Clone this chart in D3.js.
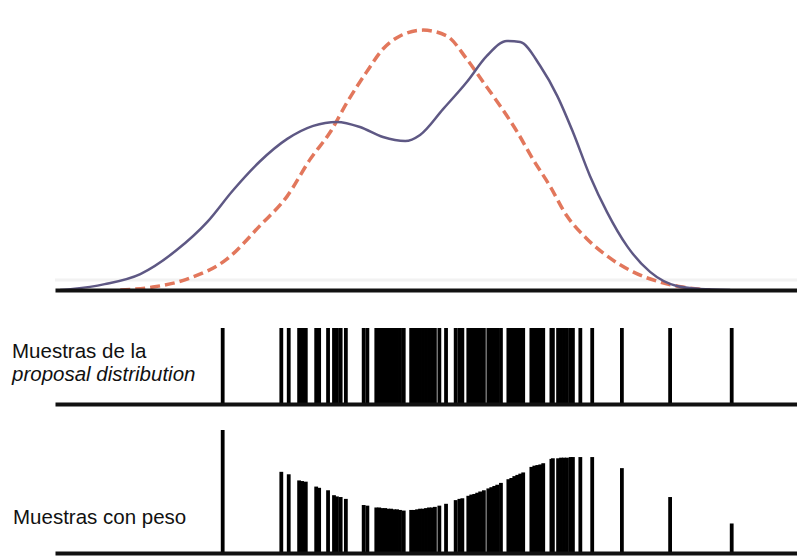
<!DOCTYPE html>
<html>
<head>
<meta charset="utf-8">
<script src="https://cdn.jsdelivr.net/npm/d3@7"></script>
<style>
  html, body { margin: 0; padding: 0; background: #fff; }
  svg { display: block; }
  text { font-family: "Liberation Sans", Arial, sans-serif; fill: #111; }
</style>
</head>
<body>
<svg id="chart" width="797" height="559"></svg>
<script>
// ---- Data (x in arbitrary units 0..10) ----
const targetX = [0.07,0.24,0.67,1.15,1.64,2.05,2.40,2.76,3.13,3.48,3.80,4.11,4.42,4.72,4.92,5.23,5.55,5.82,6.09,6.27,6.54,6.77,6.98,7.21,7.44,7.71,8.02,8.38,8.69,9.10];
const targetY = [0,0.004,0.022,0.060,0.150,0.255,0.375,0.483,0.568,0.617,0.632,0.613,0.575,0.560,0.583,0.680,0.782,0.880,0.936,0.932,0.842,0.729,0.594,0.429,0.293,0.165,0.068,0.015,0.004,0];

const proposalX = [0.88,1.32,1.78,2.32,2.76,3.13,3.44,3.71,3.94,4.20,4.42,4.65,4.96,5.28,5.55,5.77,6.00,6.23,6.44,6.67,6.90,7.17,7.44,7.79,8.15,8.46,8.83];
const proposalY = [0,0.011,0.041,0.117,0.241,0.353,0.492,0.594,0.707,0.820,0.906,0.955,0.977,0.955,0.868,0.782,0.692,0.594,0.492,0.391,0.278,0.192,0.128,0.068,0.030,0.011,0];

const sampleX = [2.26,3.05,3.15,3.29,3.33,3.38,3.52,3.56,3.68,3.76,3.80,3.85,3.92,4.16,4.21,
  4.33,4.37,4.41,4.45,4.49,4.53,4.57,4.61,4.65,4.70,4.80,4.84,4.88,4.92,4.96,5.00,5.04,5.08,5.12,
  5.18,5.27,5.40,5.45,5.49,5.57,5.61,5.65,5.69,5.73,5.78,5.84,5.88,5.92,5.96,6.01,
  6.11,6.15,6.19,6.23,6.27,6.31,6.42,6.46,6.50,6.54,6.58,6.69,6.71,6.78,6.82,6.86,6.90,6.95,6.98,
  7.08,7.24,7.64,8.29,9.12];
const sampleW = [1.00,0.66,0.64,0.59,0.585,0.58,0.54,0.53,0.51,0.47,0.46,0.455,0.44,0.39,0.385,
  0.37,0.37,0.365,0.365,0.36,0.36,0.355,0.355,0.35,0.345,0.35,0.35,0.355,0.36,0.36,0.365,0.37,0.37,0.375,
  0.385,0.40,0.43,0.44,0.445,0.465,0.475,0.48,0.49,0.50,0.51,0.525,0.535,0.545,0.555,0.57,
  0.60,0.61,0.625,0.635,0.645,0.655,0.70,0.71,0.715,0.72,0.73,0.765,0.77,0.77,0.775,0.775,0.775,0.78,0.78,
  0.78,0.78,0.69,0.455,0.24];

const labelProposal1 = "Muestras de la";
const labelProposal2 = "proposal distribution";
const labelWeighted = "Muestras con peso";

// ---- Scales ----
const svg = d3.select("#chart");
const x = d3.scaleLinear().domain([0, 10]).range([55, 797]);
const yTop = d3.scaleLinear().domain([0, 1]).range([290, 24]);
const yMid = d3.scaleLinear().domain([0, 1]).range([404, 328]);
const yBot = d3.scaleLinear().domain([0, 1]).range([553, 430]);

// faint ghost line
svg.append("line").attr("x1", 55).attr("x2", 797).attr("y1", 280).attr("y2", 280)
  .attr("stroke", "#f2f2f2").attr("stroke-width", 3);

// ---- Top panel curves ----
const target = targetX.map((v, i) => [v, targetY[i]]);
const proposal = proposalX.map((v, i) => [v, proposalY[i]]);
const line = d3.line().x(d => x(d[0])).y(d => yTop(d[1])).curve(d3.curveMonotoneX);

svg.append("path").datum(proposal).attr("d", line)
  .attr("fill", "none").attr("stroke", "#e2775c").attr("stroke-width", 3.5)
  .attr("stroke-dasharray", "10,5");
svg.append("path").datum(target).attr("d", line)
  .attr("fill", "none").attr("stroke", "#5e5884").attr("stroke-width", 2.5);

// ---- Axes (baselines) ----
function baseline(yScale) {
  const g = svg.append("g").attr("transform", `translate(0,${yScale(0)})`)
    .call(d3.axisBottom(x).tickValues([]).tickSizeOuter(0));
  g.select(".domain").attr("stroke", "#111").attr("stroke-width", 4);
}
baseline(yTop);

// ---- Middle panel samples ----
svg.append("g").selectAll("line").data(sampleX).join("line")
  .attr("x1", d => x(d)).attr("x2", d => x(d))
  .attr("y1", yMid(0)).attr("y2", yMid(1))
  .attr("stroke", "#000").attr("stroke-width", 3.8);
baseline(yMid);

// ---- Bottom panel weighted samples ----
svg.append("g").selectAll("line").data(sampleX).join("line")
  .attr("x1", d => x(d)).attr("x2", d => x(d))
  .attr("y1", yBot(0)).attr("y2", (d, i) => yBot(sampleW[i]))
  .attr("stroke", "#000").attr("stroke-width", 3.8);
baseline(yBot);

// ---- Labels ----
svg.append("text").attr("x", 12).attr("y", 358).attr("font-size", 20.5).text(labelProposal1);
svg.append("text").attr("x", 12).attr("y", 381).attr("font-size", 20.5).attr("font-style", "italic").text(labelProposal2);
svg.append("text").attr("x", 13).attr("y", 524).attr("font-size", 20.5).text(labelWeighted);
</script>
</body>
</html>
